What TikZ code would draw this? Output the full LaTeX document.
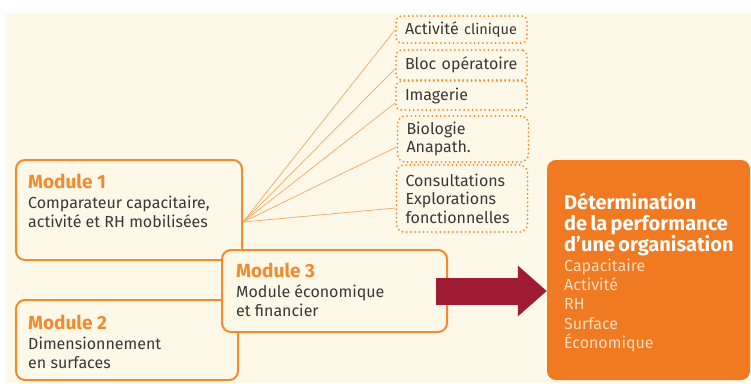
\documentclass[tikz,border=0pt]{standalone}
\usepackage{fontspec}
\setmainfont{Fira Sans}
\usetikzlibrary{calc,arrows.meta}

\definecolor{cream}{HTML}{FDF8E7}
\definecolor{orng}{HTML}{F28A30}
\definecolor{orngfill}{HTML}{F07A22}
\definecolor{wine}{HTML}{A01C35}
\definecolor{ink}{HTML}{383838}
\definecolor{peach}{HTML}{FDDDBF}
\definecolor{thin}{HTML}{F6A863}

\newcommand{\modtitlefont}{\fontsize{19}{22}\selectfont\bfseries}

\begin{document}
\begin{tikzpicture}[x=1pt,y=-1pt,
  modbox/.style={draw=orng, line width=2pt, rounded corners=9pt, fill=cream, inner sep=0pt},
  modtext/.style={anchor=north west, inner sep=0pt, align=left, text=ink,
    font=\fontsize{16}{19}\selectfont},
  dotbox/.style={draw=orng, line width=2pt, line cap=round,
    dash pattern=on 0pt off 4.2pt, rounded corners=5pt, fill=cream,
    minimum width=131pt, text width=113pt, inner xsep=9pt, inner ysep=1pt,
    align=left, text=ink, font=\fontsize{16}{18.5}\selectfont},
  spoke/.style={draw=thin, line width=0.7pt},
  bigarrow/.style={draw=wine, line width=27pt,
    -{Triangle[length=29pt,width=49pt]}},
  perfbox/.style={fill=orngfill, rounded corners=9pt, minimum width=203pt,
    minimum height=220pt, inner sep=0pt},
  perftext/.style={anchor=north west, inner sep=0pt, text width=180pt, align=left}]

% page and backdrop
\useasboundingbox (0,0) rectangle (751,383);
\fill[white] (0,0) rectangle (751,383);
\fill[cream] (6,13) rectangle (751,383);

% module boxes (module 3 sits on top of the other two)
\node[modbox, minimum width=226pt, minimum height=100pt] (m1) at (129,210) {};
\node[modbox, minimum width=222pt, minimum height=80pt] (m2) at (127,340) {};
\node[modbox, minimum width=225pt, minimum height=82pt] (m3) at (334.5,291) {};

\node[modtext] (m1t) at (28,174)
  {{\modtitlefont\color{orng}Module 1}\\[1pt]Comparateur capacitaire,\\activité et RH mobilisées};
\node[modtext] (m2t) at (28,315)
  {{\modtitlefont\color{orng}Module 2}\\[1pt]Dimensionnement\\en surfaces};
\node[modtext] (m3t) at (236,263)
  {{\modtitlefont\color{orng}Module 3}\\[1pt]Module économique\\et financier};

% activity domains
\coordinate (hub) at ([yshift=-12pt]m1.east);
\node[dotbox, minimum height=27pt] (act)  at (461.5,29.5)
  {Activité {\fontsize{14.5}{18}\selectfont clinique}};
\node[dotbox, minimum height=30pt] (bloc) at (461.5,65)   {Bloc opératoire};
\node[dotbox, minimum height=29pt] (imag) at (461.5,95.5) {Imagerie};
\node[dotbox, minimum height=46pt, rounded corners=8pt] (bio) at (463,139)
  {Biologie\\Anapath.};
\node[dotbox, minimum height=67pt, rounded corners=8pt] (cons) at (462,198.5)
  {Consultations\\Explorations\\fonctionnelles};

\draw[spoke] (hub) -- ([yshift=-0.5pt]act.west);
\draw[spoke] (hub) -- ([yshift=-4pt]bloc.west);
\draw[spoke] (hub) -- ([yshift=-7.5pt]imag.west);
\draw[spoke] (hub) -- ([yshift=-8pt]bio.west);
\draw[spoke] (hub) -- ([yshift=-9.5pt]cons.west);

% result
\node[perfbox] (perf) at (648.5,270) {};
\node[perftext] (perft) at (564,193)
  {{\color{white}\fontsize{20}{21}\selectfont\bfseries Détermination\\de la performance\\d’une organisation\par}
   {\color{peach}\fontsize{16}{19.3}\selectfont Capacitaire\\Activité\\RH\\Surface\\Économique\par}};

\draw[bigarrow] ([xshift=-12pt]m3.east) -- (m3.east -| perf.west);
\end{tikzpicture}
\end{document}
